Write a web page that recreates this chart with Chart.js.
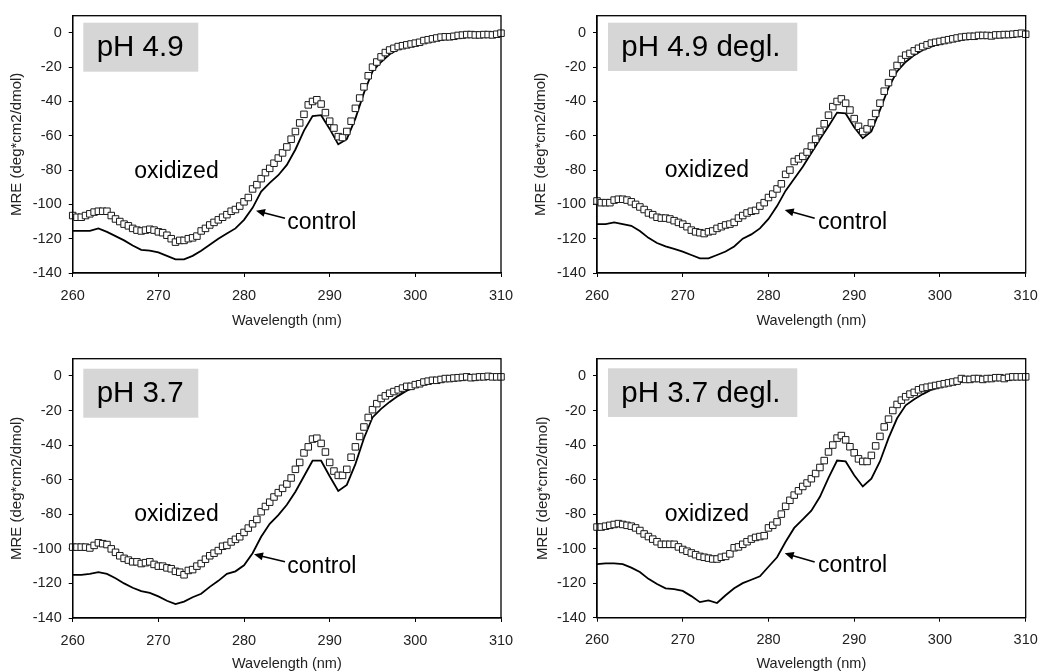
<!DOCTYPE html>
<html>
<head>
<meta charset="utf-8">
<title>CD spectra</title>
<script src="https://cdn.jsdelivr.net/npm/chart.js@4"></script>
<style>
body { margin: 0; background: #fff; }
.pan { position: absolute; width: 519px; height: 336px; }
</style>
</head>
<body>
<div class="pan" style="left:0;top:0"><canvas id="c1"></canvas></div>
<div class="pan" style="left:519px;top:0"><canvas id="c2"></canvas></div>
<div class="pan" style="left:0;top:336px"><canvas id="c3"></canvas></div>
<div class="pan" style="left:519px;top:336px"><canvas id="c4"></canvas></div>
<script>
// wavelength grids (nm): oxidized markers every 0.5 nm, control trace every 1 nm
var wlOx = [];
for (var i = 0; i <= 100; i++) wlOx.push(260 + i * 0.5);
var wlCtl = [];
for (var j = 0; j <= 50; j++) wlCtl.push(260 + j);

var xTicks = [260, 270, 280, 290, 300, 310];
var yTicks = [-140, -120, -100, -80, -60, -40, -20, 0];

// pH 4.9
var ox49 = [-106.5,-107.5,-107.5,-106.5,-105.5,-104.5,-104,-104,-104,-106.5,
  -108.5,-110,-111.5,-112.5,-114,-115,-115.5,-115,-114.5,-115,
  -116,-116.5,-118,-120,-122,-121,-121,-120,-119.5,-118.5,
  -115.5,-114,-112,-110.5,-109,-107.5,-106,-104,-103,-101,
  -98.5,-96,-91,-88.5,-85,-81.5,-79,-76,-73,-70,
  -66.5,-62,-57.5,-52.5,-47.5,-42,-40,-39,-41.5,-46.5,
  -51.5,-55.5,-60.5,-61,-57.5,-51.5,-44,-38,-31.5,-25,
  -20,-17,-14,-11.5,-10,-9,-8,-7.5,-7,-6.5,
  -6,-5.5,-4.5,-4,-3.5,-3,-2.5,-2.3,-2.3,-2,
  -1.5,-1.3,-1,-1,-1.2,-1.2,-1,-1,-1.2,-0.8,
  -0.2];
var ctl49 = [-115.5,-115.5,-115.5,-114,-116,-118.5,-121,-124,-126.5,-127,
  -128,-130,-132,-132,-130,-127,-123.5,-120,-117,-114,
  -109,-102,-92.5,-87.5,-83,-77,-68,-57,-48.5,-48,
  -56,-65,-62,-50,-35,-22.5,-17,-12.5,-9.5,-7.5,
  -6,-5,-4,-3,-2.3,-1.8,-1.4,-1.2,-1,-0.8,
  -0.3];

// pH 4.9 deglycosylated
var ox49d = [-98,-99,-99,-99,-97.5,-97,-97,-97.5,-98.5,-100,
  -101.5,-103,-105,-106,-107.5,-108,-108,-108.5,-109.5,-110.5,
  -111.5,-113,-115,-116,-116.5,-117,-116,-115.5,-114,-113,
  -112,-111.5,-110.5,-108,-106.5,-105,-104,-103.5,-101,-99,
  -96,-94,-91,-88,-82.5,-80,-75,-73.5,-72,-69.5,
  -66,-62,-57.5,-53,-48,-43,-40,-38.5,-41,-45,
  -50,-54.5,-57.5,-56,-52.5,-47,-41,-34,-29,-23.5,
  -19,-15.5,-13,-12,-10.5,-9,-8,-7,-6,-5.5,
  -5,-4.5,-4,-3.5,-3,-2.5,-2.2,-2,-2,-1.5,
  -1.5,-1.5,-1.8,-1.2,-1.2,-1,-1,-0.8,-0.5,-0.2,
  -0.8];
var ctl49d = [-111.5,-111.5,-110.5,-111.5,-112.5,-115.5,-119.5,-122.5,-124.5,-126,
  -127.5,-129.5,-131.5,-131.5,-129.5,-127.5,-124.5,-120,-117.5,-114,
  -108.5,-101,-92,-85,-78,-70,-62,-54.5,-46.5,-47,
  -55,-61.5,-57.5,-45,-32,-22.5,-17,-13,-10,-8,
  -6,-4.5,-3.5,-3,-2.5,-2,-1.5,-1.2,-1,-0.5,
  -0.8];

// pH 3.7
var ox37 = [-99,-99,-99,-99,-99.5,-98,-96.5,-97,-97.5,-100,
  -102,-104,-105.5,-106.5,-107.5,-107.5,-108.5,-108,-107.5,-109,
  -110,-110,-111,-111.5,-113,-113.5,-115,-112.5,-112,-110,
  -108.5,-106,-104,-102.5,-101,-98.5,-98,-96,-94.5,-93,
  -90.5,-88,-85.5,-83,-78.5,-75.5,-73,-70,-67.5,-65,
  -62.5,-59,-54,-50,-44.5,-41,-36.5,-36,-39,-44,
  -50,-55,-57.5,-57.5,-54,-47,-41,-35,-29.5,-24,
  -19.5,-16,-13,-11.5,-10,-9,-8,-7,-6,-6,
  -5,-4.5,-3.5,-3,-2.5,-2.5,-2,-1.5,-1.5,-1.2,
  -1,-0.8,-0.5,-1,-0.8,-0.5,-0.5,-0.2,-0.5,-0.5,
  -0.5];
var ctl37 = [-115,-115,-114.5,-113.5,-114.5,-117,-120,-122.5,-124.5,-125.5,
  -127.5,-130,-132,-130.5,-128,-126,-122,-118.5,-114.5,-113,
  -109.5,-102.5,-93,-85.5,-80.5,-74.5,-67,-58,-49,-49,
  -58,-66.5,-63,-51,-36,-24,-19,-15,-11.5,-8.5,
  -6.5,-5,-3.5,-2.5,-2,-1.5,-1,-0.8,-0.5,-0.3,
  -0.3];

// pH 3.7 deglycosylated
var ox37d = [-87.5,-87.5,-87,-86.5,-86,-85.5,-86,-86.5,-87,-88,
  -89.5,-91.5,-93,-94.5,-96,-97.5,-97.5,-97.5,-97.5,-99,
  -100.5,-101.5,-102.5,-103.5,-104.5,-105,-105.5,-106,-106,-105,
  -104.5,-103,-99.5,-99,-97.5,-96,-94.5,-93.5,-93,-92.5,
  -88,-86.5,-84.5,-80,-75.5,-72,-69,-66.5,-64,-62,
  -59.5,-56.5,-53,-49,-44,-40,-36,-34.5,-37,-41,
  -44.5,-48,-49.5,-49.5,-46,-40.5,-35,-29.5,-25,-20,
  -16.5,-14,-12,-10.5,-9.5,-8,-7,-6.5,-6,-5.5,
  -5,-4.5,-4,-3.5,-3,-1.5,-2,-2,-1.5,-1.5,
  -2,-1.5,-1.5,-1,-1,-1.5,-0.8,-0.5,-0.5,-0.5,
  -0.5];
var ctl37d = [-109,-108.5,-108.5,-109,-111,-113.5,-117.5,-120.5,-123,-123.5,
  -124.5,-127.5,-131,-130,-131.5,-127,-123,-120,-118,-116,
  -110.5,-105,-96,-88,-83,-78,-70,-59,-49,-49.5,
  -57.5,-64,-59.5,-49.5,-36,-24.5,-17,-13.5,-10.5,-8,
  -6.5,-5,-4,-3,-2.5,-2,-1.5,-1,-0.8,-0.5,
  -0.5];

Chart.defaults.font.family = "'Liberation Sans', Arial, sans-serif";

// layout of each panel, canvas-local pixels
var panels = [
  {id: 'c1', name: 'pH 4.9', ox: ox49, ctl: ctl49,
   area: {l: 72.7, t: 14, r: 501, b: 273}, yTitle: 17, xTitle: 321,
   box: [83.3, 22.7, 115, 49], nameX: 96.7, oxTxt: [134.3, 178.3], ctlTxt: [287.3, 229.3], arrow: [285, 218.3, 256, 210.7]},
  {id: 'c2', name: 'pH 4.9 degl.', ox: ox49d, ctl: ctl49d,
   area: {l: 78, t: 14, r: 506.7, b: 273}, yTitle: 22.3, xTitle: 321,
   box: [89, 22.7, 189.3, 48.3], nameX: 102.3, oxTxt: [145.7, 177.3], ctlTxt: [299, 229.3], arrow: [295.7, 218.3, 265.7, 210]},
  {id: 'c3', name: 'pH 3.7', ox: ox37, ctl: ctl37,
   area: {l: 72.7, t: 22.7, r: 501, b: 282}, yTitle: 17, xTitle: 328,
   box: [83.3, 32.7, 115, 49], nameX: 96.7, oxTxt: [134.3, 185], ctlTxt: [287.3, 236.7], arrow: [285, 225.7, 254, 218.3]},
  {id: 'c4', name: 'pH 3.7 degl.', ox: ox37d, ctl: ctl37d,
   area: {l: 78, t: 22.7, r: 506.7, b: 281.7}, yTitle: 24, xTitle: 328,
   box: [89, 32.3, 189.3, 48.7], nameX: 102.3, oxTxt: [145.7, 185], ctlTxt: [299, 236], arrow: [295.7, 226, 265.7, 217.3]}
];

function decor(p) {
  return {
    id: 'decor',
    beforeDatasetsDraw: function (chart) {
      var ctx = chart.ctx;
      ctx.save();
      ctx.fillStyle = '#d6d6d6';
      ctx.fillRect(p.box[0], p.box[1], p.box[2], p.box[3]);
      ctx.fillStyle = '#000';
      ctx.font = "29.5px 'Liberation Sans', Arial, sans-serif";
      ctx.textBaseline = 'middle';
      ctx.fillText(p.name, p.nameX, p.box[1] + p.box[3] / 2 + 1);
      ctx.restore();
    },
    afterDatasetsDraw: function (chart) {
      var ctx = chart.ctx, a = chart.chartArea;
      ctx.save();
      ctx.strokeStyle = '#000';
      ctx.lineWidth = 1.3;
      ctx.strokeRect(a.left, a.top, a.right - a.left, a.bottom - a.top);
      ctx.fillStyle = '#000';
      ctx.font = "23px 'Liberation Sans', Arial, sans-serif";
      ctx.textBaseline = 'alphabetic';
      ctx.fillText('oxidized', p.oxTxt[0], p.oxTxt[1]);
      ctx.fillText('control', p.ctlTxt[0], p.ctlTxt[1]);
      // arrow
      var x0 = p.arrow[0], y0 = p.arrow[1], x1 = p.arrow[2], y1 = p.arrow[3];
      var ang = Math.atan2(y1 - y0, x1 - x0);
      ctx.lineWidth = 1.6;
      ctx.beginPath();
      ctx.moveTo(x0, y0);
      ctx.lineTo(x1 - 6 * Math.cos(ang), y1 - 6 * Math.sin(ang));
      ctx.stroke();
      ctx.beginPath();
      ctx.moveTo(x1, y1);
      ctx.lineTo(x1 - 9 * Math.cos(ang) + 4 * Math.sin(ang), y1 - 9 * Math.sin(ang) - 4 * Math.cos(ang));
      ctx.lineTo(x1 - 9 * Math.cos(ang) - 4 * Math.sin(ang), y1 - 9 * Math.sin(ang) + 4 * Math.cos(ang));
      ctx.closePath();
      ctx.fill();
      ctx.restore();
    }
  };
}

function makePanel(p) {
  var a = p.area;
  new Chart(document.getElementById(p.id), {
    type: 'scatter',
    data: {
      datasets: [
        {
          label: 'oxidized',
          data: wlOx.map(function (x, i) { return {x: x, y: p.ox[i]}; }),
          showLine: false,
          pointStyle: 'rect',
          pointRadius: 4.6,
          pointBorderWidth: 1,
          pointBorderColor: '#1a1a1a',
          pointBackgroundColor: '#fff',
          clip: false,
          order: 0
        },
        {
          label: 'control',
          data: wlCtl.map(function (x, i) { return {x: x, y: p.ctl[i]}; }),
          showLine: true,
          borderColor: '#000',
          borderWidth: 1.8,
          pointRadius: 0,
          tension: 0,
          order: 1
        }
      ]
    },
    options: {
      responsive: true,
      maintainAspectRatio: false,
      animation: false,
      events: [],
      layout: {padding: {left: 0, top: a.t, right: 519 - a.r, bottom: 0}},
      plugins: {legend: {display: false}, tooltip: {enabled: false}},
      scales: {
        x: {
          type: 'linear', min: 260, max: 310,
          afterBuildTicks: function (s) { s.ticks = xTicks.map(function (v) { return {value: v}; }); },
          afterFit: function (s) { s.height = 336 - a.b; s.paddingLeft = 0; s.paddingRight = 0; },
          grid: {drawOnChartArea: false, tickLength: 4, color: '#000'},
          border: {color: '#000', width: 1.3},
          ticks: {color: '#222', font: {size: 14.5}, padding: 10, maxRotation: 0, autoSkip: false},
          title: {display: true, text: 'Wavelength (nm)', color: '#222', font: {size: 14.5, lineHeight: 1},
                  padding: {top: 0, bottom: 336 - p.xTitle - 7.25}}
        },
        y: {
          min: -140, max: 10,
          afterBuildTicks: function (s) { s.ticks = yTicks.map(function (v) { return {value: v}; }); },
          afterFit: function (s) { s.width = a.l; },
          grid: {drawOnChartArea: false, tickLength: 4, color: '#000'},
          border: {color: '#000', width: 1.3},
          ticks: {color: '#222', font: {size: 14.5}, padding: 7, autoSkip: false},
          title: {display: true, text: 'MRE (deg*cm2/dmol)', color: '#222', font: {size: 15, lineHeight: 1},
                  padding: {top: p.yTitle - 7.5, bottom: 0}}
        }
      }
    },
    plugins: [decor(p)]
  });
}

panels.forEach(makePanel);
</script>
</body>
</html>
